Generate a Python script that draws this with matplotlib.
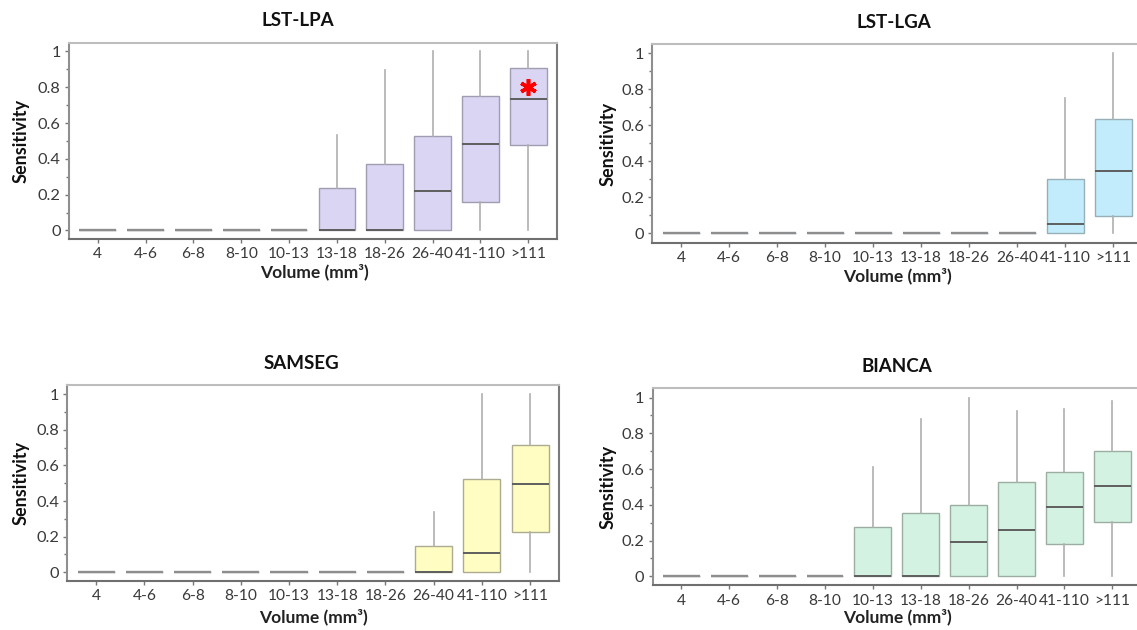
import matplotlib
matplotlib.use("Agg")
import matplotlib.pyplot as plt
from matplotlib.ticker import MultipleLocator

plt.rcParams['font.family'] = ['Lato', 'DejaVu Sans']

categories = ['4', '4-6', '6-8', '8-10', '10-13', '13-18', '18-26', '26-40', '41-110', '>111']

# LST-LPA
lpa_lo = [0, 0, 0, 0, 0, 0, 0, 0, 0, 0]
lpa_q1 = [0, 0, 0, 0, 0, 0, 0, 0, 0.157, 0.479]
lpa_med = [0, 0, 0, 0, 0, 0, 0, 0.223, 0.481, 0.734]
lpa_q3 = [0, 0, 0, 0, 0, 0.237, 0.372, 0.53, 0.749, 0.908]
lpa_hi = [0, 0, 0, 0, 0, 0.532, 0.899, 1.0, 1.0, 1.0]

# LST-LGA
lga_lo = [0, 0, 0, 0, 0, 0, 0, 0, 0, 0]
lga_q1 = [0, 0, 0, 0, 0, 0, 0, 0, 0, 0.096]
lga_med = [0, 0, 0, 0, 0, 0, 0, 0, 0.05, 0.348]
lga_q3 = [0, 0, 0, 0, 0, 0, 0, 0, 0.304, 0.633]
lga_hi = [0, 0, 0, 0, 0, 0, 0, 0, 0.754, 1.0]

# SAMSEG
sam_lo = [0, 0, 0, 0, 0, 0, 0, 0, 0, 0]
sam_q1 = [0, 0, 0, 0, 0, 0, 0, 0, 0, 0.225]
sam_med = [0, 0, 0, 0, 0, 0, 0, 0, 0.108, 0.494]
sam_q3 = [0, 0, 0, 0, 0, 0, 0, 0.146, 0.522, 0.715]
sam_hi = [0, 0, 0, 0, 0, 0, 0, 0.339, 1.0, 1.0]

# BIANCA
bia_lo = [0, 0, 0, 0, 0, 0, 0, 0, 0, 0]
bia_q1 = [0, 0, 0, 0, 0, 0, 0, 0, 0.182, 0.303]
bia_med = [0, 0, 0, 0, 0, 0, 0.19, 0.26, 0.389, 0.508]
bia_q3 = [0, 0, 0, 0, 0.276, 0.354, 0.40, 0.529, 0.585, 0.702]
bia_hi = [0, 0, 0, 0, 0.61, 0.88, 1.0, 0.923, 0.935, 0.98]

W, H = 1137, 630
fig = plt.figure(figsize=(W / 100, H / 100), dpi=100)
fig.patch.set_facecolor('white')


def px_axes(left, top, right, bottom):
    return fig.add_axes([left / W, 1 - bottom / H, (right - left) / W, (bottom - top) / H])


panels = [
    dict(title='LST-LPA', rect=(69, 42.5, 557, 238.7), ylim=(-0.046, 1.05),
         data=(lpa_lo, lpa_q1, lpa_med, lpa_q3, lpa_hi), face='#d9d5f3', edge='#a09db2',
         title_xy=(298, 21), ylab_x=21, xlab_y=272, xlab_x=314),
    dict(title='LST-LGA', rect=(652.3, 44.3, 1142, 242.7), ylim=(-0.052, 1.05),
         data=(lga_lo, lga_q1, lga_med, lga_q3, lga_hi), face='#c2ecfb', edge='#98afb8',
         title_xy=(894, 22), ylab_x=608, xlab_y=276, xlab_x=897),
    dict(title='SAMSEG', rect=(67.3, 385, 559, 581), ylim=(-0.049, 1.052),
         data=(sam_lo, sam_q1, sam_med, sam_q3, sam_hi), face='#fffdc2', edge='#adac92',
         title_xy=(301, 364), ylab_x=21, xlab_y=617, xlab_x=313),
    dict(title='BIANCA', rect=(652.7, 388.3, 1141, 585.3), ylim=(-0.05, 1.052),
         data=(bia_lo, bia_q1, bia_med, bia_q3, bia_hi), face='#d3f2e1', edge='#9caea3',
         title_xy=(897, 367), ylab_x=608, xlab_y=617, xlab_x=897),
]

for p in panels:
    ax = px_axes(*p['rect'])
    lo, q1, med, q3, hi = p['data']
    stats = []
    for i, c in enumerate(categories):
        stats.append(dict(label=c, whislo=lo[i], q1=q1[i], med=med[i], q3=q3[i],
                          whishi=hi[i], fliers=[]))
    ax.bxp(stats, positions=list(range(len(categories))), widths=0.77,
           patch_artist=True, showcaps=False, showfliers=False,
           boxprops=dict(facecolor=p['face'], edgecolor=p['edge'], linewidth=1.0),
           medianprops=dict(color='#5e5e5e', linewidth=1.4),
           whiskerprops=dict(color='#afafaf', linewidth=1.2))
    # flat (all-zero) categories drawn as grey dashes
    for i in range(len(categories)):
        if q3[i] == 0 and hi[i] == 0:
            ax.plot([i - 0.385, i + 0.385], [0, 0], color='#8e8e8e', lw=1.7,
                    solid_capstyle='butt', zorder=3)
    ax.set_xlim(-0.6, 9.6)
    ax.set_ylim(*p['ylim'])
    ax.set_yticks([0, 0.2, 0.4, 0.6, 0.8, 1.0])
    ax.set_yticklabels(['0', '0.2', '0.4', '0.6', '0.8', '1'])
    ax.yaxis.set_minor_locator(MultipleLocator(0.1))
    ax.set_xticks(range(len(categories)))
    ax.set_xticklabels(categories)
    ax.tick_params(axis='x', which='major', labelsize=11.2)
    ax.tick_params(axis='y', which='major', labelsize=11.8)
    ax.tick_params(axis='both', which='major', labelcolor='#3a3a3a',
                   color='#777777', length=3, width=1, direction='out', pad=3)
    ax.tick_params(axis='y', which='minor', length=2, width=1, color='#777777')
    ax.spines['top'].set_color('#bdbdbd')
    ax.spines['left'].set_color('#8f8f8f')
    ax.spines['bottom'].set_color('#6f6f6f')
    ax.spines['right'].set_color('#7a7a7a')
    for s in ax.spines.values():
        s.set_linewidth(1.5)
    ax.set_facecolor('white')

    tx, ty = p['title_xy']
    fig.text(tx / W, 1 - ty / H, p['title'], ha='center', va='center',
             fontsize=13.5, fontweight='bold', color='#111111')
    fig.text(p['ylab_x'] / W, 1 - ((p['rect'][1] + p['rect'][3]) / 2) / H, 'Sensitivity',
             rotation=90, ha='center', va='center', fontsize=13, fontweight='bold',
             color='#111111')
    fig.text(p['xlab_x'] / W, 1 - p['xlab_y'] / H, 'Volume (mm³)', ha='center',
             va='center', fontsize=12.5, fontweight='bold', color='#222222')

    if p['title'] == 'LST-LPA':
        ax.plot([9], [0.80], marker=(6, 2, 0), markersize=12, markeredgewidth=2.6,
                color='#ff0000', zorder=5)

fig.savefig('out.png', dpi=100, facecolor='white')
